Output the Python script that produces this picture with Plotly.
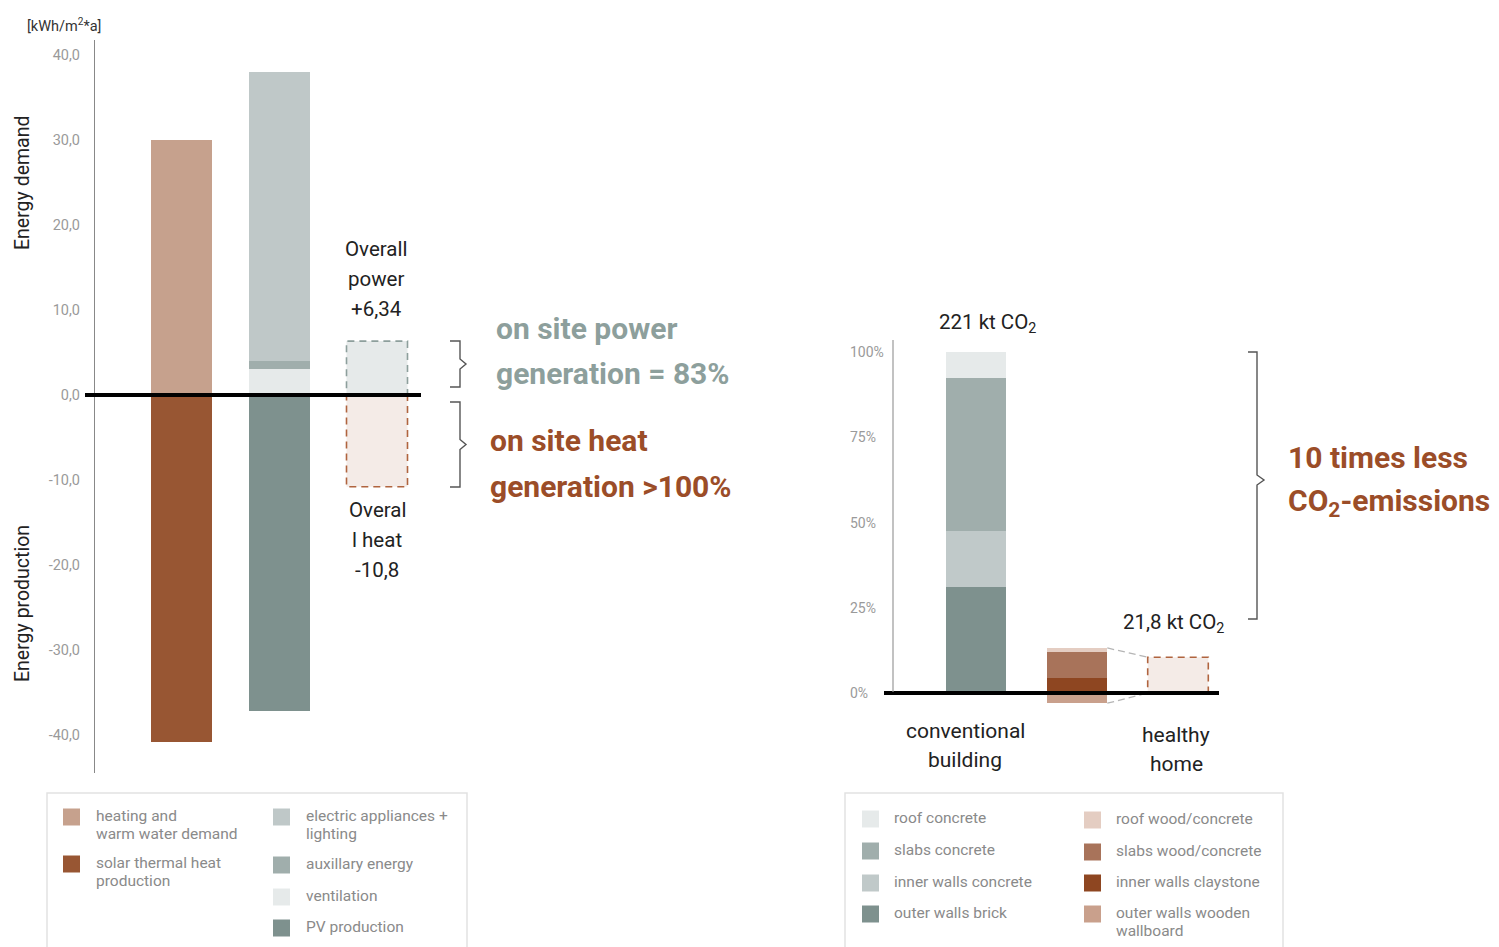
import plotly.graph_objects as go

W, H = 1499, 947

# ---------------- data: left chart (energy balance, kWh/m2*a) ----------------
left_names = ["heating and warm water demand", "solar thermal heat production",
              "ventilation", "auxillary energy", "electric appliances + lighting", "PV production"]
left_bar_index = [0, 0, 1, 1, 1, 1]
left_values = [30.0, -40.8, 3.1, 0.9, 34.0, -37.2]
left_colors = ["#c6a18d", "#985633", "#e6eaea", "#a0aeac", "#bfc8c8", "#7e918e"]
overall_index = 2
overall_power = 6.34
overall_heat = -10.8
left_tickvals = [40, 30, 20, 10, 0, -10, -20, -30, -40]
left_ticktext = ["40,0", "30,0", "20,0", "10,0", "0,0", "-10,0", "-20,0", "-30,0", "-40,0"]

# ---------------- data: right chart (CO2 share, %) ----------------
right_names = ["outer walls brick", "inner walls concrete", "slabs concrete", "roof concrete",
               "outer walls wooden wallboard", "inner walls claystone", "slabs wood/concrete", "roof wood/concrete"]
right_bar_index = [0, 0, 0, 0, 1, 1, 1, 1]
right_values = [31.0, 16.5, 44.9, 7.6, -3.0, 4.4, 7.6, 1.2]
right_colors = ["#7e918e", "#c0c9c9", "#a0aeac", "#e6eaea", "#c9a08c", "#8e4621", "#a8735a", "#e4cdc2"]
healthy_box_index = 2
healthy_box_value = 10.5
right_tickvals = [0, 25, 50, 75, 100]
right_ticktext = ["0%", "25%", "50%", "75%", "100%"]
right_category_labels = [["conventional", "building"], ["healthy", "home"]]
right_totals = ["221 kt CO<sub>2</sub>", "21,8 kt CO<sub>2</sub>"]

# ---------------- helpers ----------------
def fx(px):
    return px / W

def fy(py):
    return 1 - py / H

FONT = "Roboto"
GREEN_TXT = "#8d9f9c"
BROWN_TXT = "#9b4d28"
LEG_TXT = "#8a8a8a"

# left axis geometry (pixels)
L_X0, L_X1, L_C0, L_PXU = 95, 440, 181.5, 97.75
L_Y0, L_Y1, L_ZERO, L_PYU = 40, 773, 395, 8.5
# right axis geometry (pixels)
R_X0, R_X1, R_C0, R_PXU = 893, 1230, 976, 101.0
R_Y0, R_Y1, R_ZERO, R_PYU = 340, 710, 693, 3.41

BW_L = 0.624
BW_R = 0.6

fig = go.Figure()

for name, xi, v, c in zip(left_names, left_bar_index, left_values, left_colors):
    fig.add_trace(go.Bar(x=[xi], y=[v], name=name, marker=dict(color=c, line=dict(width=0)),
                         width=BW_L, xaxis="x", yaxis="y", showlegend=False))

for name, xi, v, c in zip(right_names, right_bar_index, right_values, right_colors):
    fig.add_trace(go.Bar(x=[xi], y=[v], name=name, marker=dict(color=c, line=dict(width=0)),
                         width=BW_R, xaxis="x2", yaxis="y2", showlegend=False))

def box_trace(xc, w, v, fill, line, xa, ya):
    return go.Scatter(x=[xc - w / 2, xc + w / 2, xc + w / 2, xc - w / 2, xc - w / 2],
                      y=[0, 0, v, v, 0], mode="lines", fill="toself", fillcolor=fill,
                      line=dict(color=line, width=1.6, dash="7px,5px"),
                      xaxis=xa, yaxis=ya, showlegend=False, hoverinfo="skip")

fig.add_trace(box_trace(overall_index, BW_L, overall_power, "#e6eaea", "#8d9f9c", "x", "y"))
fig.add_trace(box_trace(overall_index, BW_L, overall_heat, "#f4ebe7", "#b0643f", "x", "y"))
fig.add_trace(box_trace(healthy_box_index, BW_R, healthy_box_value, "#f4ebe7", "#b0643f", "x2", "y2"))

# connector lines between healthy bar and its zoom box
healthy_top = sum(v for v, i in zip(right_values, right_bar_index) if i == 1 and v > 0)
healthy_bot = sum(v for v, i in zip(right_values, right_bar_index) if i == 1 and v < 0)
for y_from, y_to in [(healthy_top, healthy_box_value), (healthy_bot, 0)]:
    fig.add_trace(go.Scatter(x=[1 + BW_R / 2, healthy_box_index - BW_R / 2], y=[y_from, y_to],
                             mode="lines", line=dict(color="#b5b5b5", width=1.3, dash="7px,4px"),
                             xaxis="x2", yaxis="y2", showlegend=False, hoverinfo="skip"))

shapes = []
annotations = []

# zero lines
shapes.append(dict(type="line", xref="paper", yref="y", x0=fx(85), x1=fx(421),
                   y0=0, y1=0, line=dict(color="black", width=4), layer="above"))
shapes.append(dict(type="line", xref="paper", yref="y2", x0=fx(884), x1=fx(1219),
                   y0=0, y1=0, line=dict(color="black", width=4), layer="above"))
# right y axis line
shapes.append(dict(type="line", xref="paper", yref="paper", x0=fx(R_X0), x1=fx(R_X0),
                   y0=fy(340), y1=fy(692), line=dict(color="#999999", width=1.2)))

# right axis tick labels (left-aligned, as in the reference)
for tv, tt in zip(right_tickvals, right_ticktext):
    annotations.append(dict(x=fx(848), y=tv, xref="paper", yref="y2", text=tt, showarrow=False,
                            xanchor="left", yanchor="middle",
                            font=dict(family=FONT, size=14, color="#9a9a9a")))

def brace(x0, xv, xt, yt, yb, ym=None):
    if ym is None:
        ym = (yt + yb) / 2
    pts = [(x0, yt), (xv, yt), (xv, ym - 5), (xt, ym), (xv, ym + 5), (xv, yb), (x0, yb)]
    return "M " + " L ".join(f"{fx(a):.5f},{fy(b):.5f}" for a, b in pts)

for (yt, yb) in [(341, 387), (402, 487)]:
    shapes.append(dict(type="path", xref="paper", yref="paper", path=brace(450, 460, 466, yt, yb),
                       line=dict(color="#555555", width=1.4)))
shapes.append(dict(type="path", xref="paper", yref="paper", path=brace(1248, 1257, 1264, 352, 619, 480),
                   line=dict(color="#555555", width=1.4)))

# legend boxes
for (a, b) in [(47, 467), (845, 1283)]:
    shapes.append(dict(type="rect", xref="paper", yref="paper", x0=fx(a), x1=fx(b), y0=fy(960), y1=fy(793),
                       line=dict(color="#e2e2e2", width=1.5), fillcolor="rgba(0,0,0,0)"))

def txt(x, y, s, size, color="#222222", anchor="center", bold=False, angle=0):
    annotations.append(dict(x=fx(x), y=fy(y), xref="paper", yref="paper", text=("<b>%s</b>" % s) if bold else s,
                            showarrow=False, xanchor=anchor, yanchor="middle", textangle=angle,
                            font=dict(family=FONT, size=size, color=color)))

txt(25, 25, "[kWh/m<sup>2</sup>*a]", 14.5, "#333333", "left")
txt(22, 183, "Energy demand", 19.5, angle=-90)
txt(22, 604, "Energy production", 19.5, angle=-90)

for i, s in enumerate(["Overall", "power", "+6,34"]):
    txt(376, 249 + 30 * i, s, 20.5)
for i, s in enumerate(["Overal", "l heat", "-10,8"]):
    txt(377, 510 + 30 * i, s, 20.5)

BIG = 30
txt(494, 328, "on site power", BIG, GREEN_TXT, "left", bold=True)
txt(494, 373, "generation = 83%", BIG, GREEN_TXT, "left", bold=True)
txt(488, 441, "on site heat", BIG, BROWN_TXT, "left", bold=True)
txt(488, 487, "generation >100%", BIG, BROWN_TXT, "left", bold=True)

txt(1286, 457, "10 times less", BIG, BROWN_TXT, "left", bold=True)
txt(1286, 502, "CO<sub>2</sub>-emissions", BIG, BROWN_TXT, "left", bold=True)

txt(987, 324, right_totals[0], 20.5)
txt(1173, 623, right_totals[1], 20.5)
for i, s in enumerate(right_category_labels[0]):
    txt(965, 731 + 29 * i, s, 21)
for i, s in enumerate(right_category_labels[1]):
    txt(1176, 735 + 29 * i, s, 21)

# custom legends
def leg_item(sx, sy, color, lines, tx):
    shapes.append(dict(type="rect", xref="paper", yref="paper", x0=fx(sx), x1=fx(sx + 17),
                       y0=fy(sy + 8.5), y1=fy(sy - 8.5), line=dict(width=0), fillcolor=color))
    for k, ln in enumerate(lines):
        txt(tx, sy - 1 + 18 * k, ln, 15.5, LEG_TXT, "left")

lc = dict(zip(left_names, left_colors))
leg_item(63, 817, lc["heating and warm water demand"], ["heating and", "warm water demand"], 94)
leg_item(63, 864, lc["solar thermal heat production"], ["solar thermal heat", "production"], 94)
leg_item(273, 817, lc["electric appliances + lighting"], ["electric appliances +", "lighting"], 304)
leg_item(273, 865, lc["auxillary energy"], ["auxillary energy"], 304)
leg_item(273, 897, lc["ventilation"], ["ventilation"], 304)
leg_item(273, 928, lc["PV production"], ["PV production"], 304)

rc = dict(zip(right_names, right_colors))
leg_item(862, 819, rc["roof concrete"], ["roof concrete"], 892)
leg_item(862, 851, rc["slabs concrete"], ["slabs concrete"], 892)
leg_item(862, 883, rc["inner walls concrete"], ["inner walls concrete"], 892)
leg_item(862, 914, rc["outer walls brick"], ["outer walls brick"], 892)
leg_item(1084, 820, rc["roof wood/concrete"], ["roof wood/concrete"], 1114)
leg_item(1084, 852, rc["slabs wood/concrete"], ["slabs wood/concrete"], 1114)
leg_item(1084, 883, rc["inner walls claystone"], ["inner walls claystone"], 1114)
leg_item(1084, 914, rc["outer walls wooden wallboard"], ["outer walls wooden", "wallboard"], 1114)

fig.update_layout(
    width=W, height=H, margin=dict(l=0, r=0, t=0, b=0),
    paper_bgcolor="white", plot_bgcolor="white",
    barmode="relative", bargap=0,
    showlegend=False,
    font=dict(family=FONT),
    xaxis=dict(domain=[fx(L_X0), fx(L_X1)], range=[(L_X0 - L_C0) / L_PXU, (L_X1 - L_C0) / L_PXU],
               visible=False, fixedrange=True),
    yaxis=dict(domain=[fy(L_Y1), fy(L_Y0)], range=[(L_ZERO - L_Y1) / L_PYU, (L_ZERO - L_Y0) / L_PYU],
               tickvals=left_tickvals, ticktext=left_ticktext, ticks="", showgrid=False, zeroline=False,
               showline=True, linecolor="#888888", linewidth=1.2, ticklabelstandoff=11,
               tickfont=dict(family=FONT, size=14.5, color="#9a9a9a"), anchor="x"),
    xaxis2=dict(domain=[fx(R_X0), fx(R_X1)], range=[(R_X0 - R_C0) / R_PXU, (R_X1 - R_C0) / R_PXU],
                visible=False, fixedrange=True, anchor="y2"),
    yaxis2=dict(domain=[fy(R_Y1), fy(R_Y0)], range=[(R_ZERO - R_Y1) / R_PYU, (R_ZERO - R_Y0) / R_PYU],
                tickvals=right_tickvals, showticklabels=False, ticks="", showgrid=False, zeroline=False,
                showline=False, anchor="x2"),
    shapes=shapes, annotations=annotations,
)

fig.write_html("out.html")
